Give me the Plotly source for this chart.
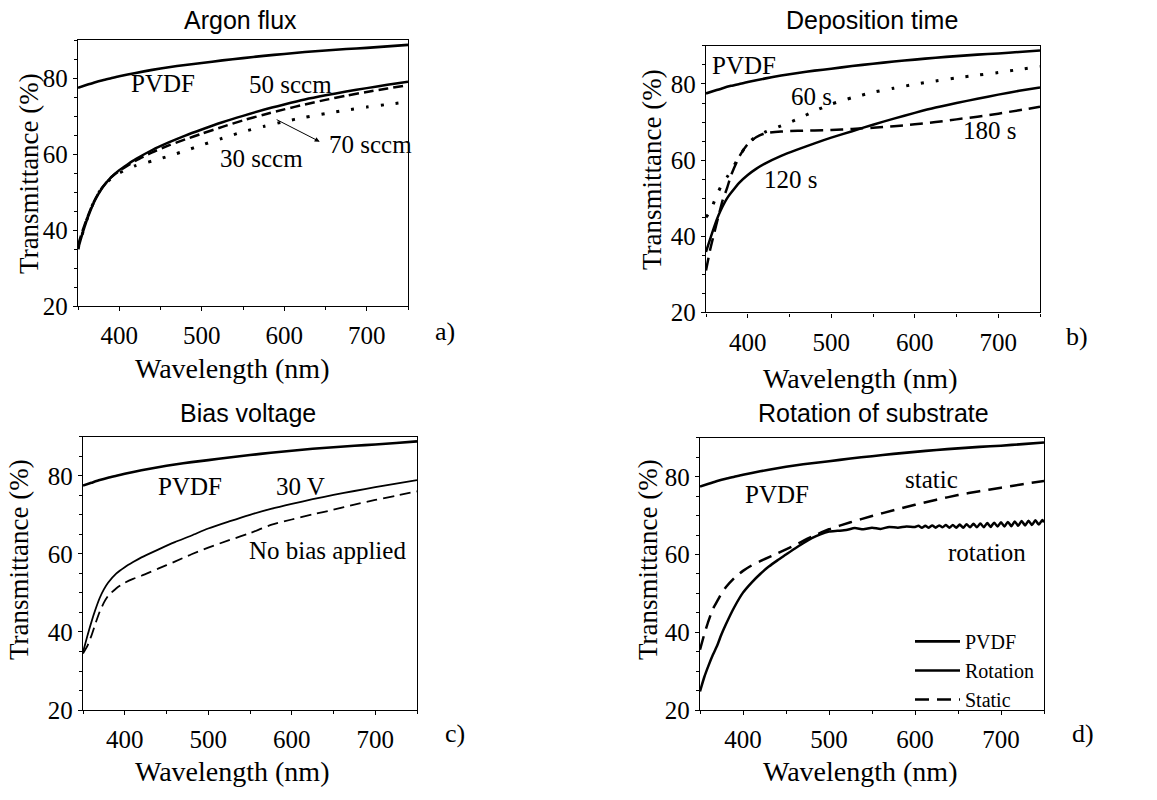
import plotly.graph_objects as go

# ---------------------------------------------------------------- data
# Bare PVDF substrate (same reference spectrum in every panel)
pvdf_wl = [350, 360, 370, 380, 390, 400, 420, 440, 460, 480, 500, 525, 550,
           575, 600, 625, 650, 675, 700, 725, 750]
pvdf_t = [77.5, 78.2, 78.9, 79.5, 80.0, 80.5, 81.4, 82.2, 82.9, 83.5, 84.0,
          84.7, 85.3, 85.9, 86.4, 86.9, 87.3, 87.7, 88.0, 88.4, 88.8]

# common wavelength grid for the coated samples
wl = [350, 355, 360, 365, 370, 375, 380, 390, 400, 410, 420, 440, 460, 480,
      500, 525, 550, 575, 600, 625, 650, 675, 700, 725, 750]

# a) argon flux
ar_50 = [35.0, 38.8, 42.2, 45.1, 47.6, 49.6, 51.3, 53.9, 55.8, 57.3, 58.7,
         61.1, 63.1, 64.9, 66.5, 68.4, 70.1, 71.7, 73.1, 74.4, 75.5, 76.5,
         77.4, 78.3, 79.1]
ar_70 = [36.0, 39.5, 42.6, 45.4, 47.8, 49.8, 51.4, 53.9, 55.6, 57.0, 58.3,
         60.5, 62.3, 63.9, 65.4, 67.2, 68.9, 70.4, 71.8, 73.1, 74.3, 75.4,
         76.4, 77.3, 78.2]
ar_30 = [35.0, 38.8, 42.3, 45.3, 47.8, 49.8, 51.4, 53.6, 55.0, 56.1, 57.0,
         58.2, 59.5, 60.9, 62.4, 64.2, 65.9, 67.3, 68.6, 69.7, 70.7, 71.6,
         72.4, 73.1, 73.8]

# b) deposition time
t_60 = [45.0, 46.5, 49.2, 51.8, 54.0, 55.5, 57.2, 61.0, 64.3, 66.2, 67.3,
        69.0, 70.8, 72.9, 74.7, 76.4, 77.8, 78.9, 79.9, 80.8, 81.6, 82.3,
        83.0, 83.8, 84.6]
t_120 = [35.9, 39.3, 42.6, 45.5, 47.9, 49.9, 51.4, 54.1, 56.1, 57.7, 59.0,
         61.1, 62.8, 64.4, 65.9, 67.6, 69.3, 70.9, 72.4, 73.8, 75.0, 76.1,
         77.2, 78.2, 79.1]
t_180 = [31.0, 36.5, 41.0, 45.3, 49.5, 52.5, 56.0, 61.0, 64.2, 66.0, 67.0,
         67.5, 67.7, 67.8, 67.9, 68.2, 68.5, 68.9, 69.4, 70.0, 70.7, 71.4,
         72.2, 73.1, 74.0]

# c) bias voltage
bias_30 = [34.8, 38.8, 42.5, 45.8, 48.7, 50.9, 52.6, 55.0, 56.6, 57.9, 59.1,
           61.1, 63.0, 64.7, 66.5, 68.3, 70.0, 71.5, 72.8, 74.0, 75.1, 76.1,
           77.1, 78.0, 78.9]
bias_none = [34.5, 36.3, 39.0, 42.2, 45.2, 47.5, 49.2, 51.2, 52.6, 53.6, 54.4,
             56.2, 58.0, 59.9, 61.6, 63.5, 65.3, 67.4, 68.8, 70.1, 71.3, 72.6,
             73.8, 74.9, 76.0]

# d) substrate rotation
static_t = [35.5, 39.5, 43.0, 46.0, 48.0, 50.0, 51.6, 54.0, 55.8, 57.2, 58.3,
            60.3, 62.4, 64.6, 66.5, 68.3, 69.9, 71.4, 72.8, 74.1, 75.3, 76.3,
            77.2, 78.1, 78.9]
rot_wl = [350, 355, 360, 365, 370, 375, 380, 390, 400, 410, 420, 430, 440,
          450, 460, 470, 480, 490, 500, 510, 520, 530, 540, 550, 560, 570,
          580, 590, 600, 604, 608, 612, 616, 620, 624, 628, 632, 636, 640,
          644, 648, 652, 656, 660, 664, 668, 672, 676, 680, 684, 688, 692,
          696, 700, 704, 708, 712, 716, 720, 724, 728, 732, 736, 740, 744,
          748, 750]
rot_t = [24.8, 28.5, 31.5, 34.2, 36.6, 39.5, 42.0, 46.5, 50.2, 52.8, 55.0,
         56.9, 58.5, 60.0, 61.5, 62.9, 64.2, 65.2, 65.9, 66.1, 66.3, 66.8,
         66.5, 66.9, 66.6, 67.1, 66.9, 67.2, 67.1, 67.4, 66.9, 67.4, 66.9,
         67.5, 66.9, 67.5, 67.0, 67.6, 66.9, 67.6, 66.9, 67.7, 66.9, 67.8,
         67.0, 67.9, 67.0, 68.0, 67.0, 68.1, 67.1, 68.2, 67.2, 68.3, 67.2,
         68.4, 67.3, 68.5, 67.4, 68.6, 67.5, 68.7, 67.6, 68.8, 67.7, 68.9,
         68.3]

x_ticks = [400, 500, 600, 700]
y_ticks = [20, 40, 60, 80]

# ---------------------------------------------------------------- layout helpers
W, H = 1157, 800
SERIF = "Liberation Serif"
SANS = "Liberation Sans"


def fx(px):
    return px / W


def fy(py):
    return 1 - py / H


# plot-area boxes in pixels: (left, right, top, bottom)
boxes = {
    1: (78, 408, 41, 311.5),
    2: (706, 1040, 46.7, 318),
    3: (83, 417, 444.5, 722.7),
    4: (700, 1044, 445.7, 722.7),
}

fig = go.Figure()


def add(panel, x, y, name=None, width=2.5, dash="solid", legend=False):
    sfx = "" if panel == 1 else str(panel)
    fig.add_trace(go.Scatter(
        x=x, y=y, mode="lines", name=name, showlegend=legend,
        line=dict(color="black", width=width, dash=dash, shape="spline",
                  smoothing=0.6),
        xaxis="x" + sfx, yaxis="y" + sfx, hoverinfo="skip"))


DOT = "3px,12px"

# a) Argon flux
add(1, pvdf_wl, pvdf_t, width=2.6)
add(1, wl, ar_30, width=3, dash=DOT)
add(1, wl, ar_70, width=2.5, dash="10px,5px")
add(1, wl, ar_50, width=2.5)

# b) Deposition time
add(2, pvdf_wl, pvdf_t, width=2.6)
add(2, wl, t_60, width=3, dash=DOT)
add(2, wl, t_180, width=2.5, dash="13px,7px")
add(2, wl, t_120, width=2.5)

# c) Bias voltage
add(3, pvdf_wl, pvdf_t, width=2.6)
add(3, wl, bias_none, width=1.8, dash="11px,6px")
add(3, wl, bias_30, width=1.8)

# d) Rotation of substrate (carries the legend)
add(4, pvdf_wl, pvdf_t, name="PVDF", width=2.6, legend=True)
add(4, rot_wl, rot_t, name="Rotation", width=2.5, legend=True)
add(4, wl, static_t, name="Static", width=2.5, dash="14px,8px", legend=True)

layout = dict(
    width=W, height=H, margin=dict(l=0, r=0, t=0, b=0, pad=0),
    paper_bgcolor="white", plot_bgcolor="white",
    showlegend=True,
    legend=dict(x=fx(910), y=fy(633), xanchor="left", yanchor="top",
                bgcolor="rgba(0,0,0,0)", borderwidth=0,
                font=dict(family=SERIF, size=20, color="black"),
                itemwidth=45, tracegroupgap=0),
)

for p, (l, r, t, b) in boxes.items():
    sfx = "" if p == 1 else str(p)
    common = dict(showline=True, linecolor="black", linewidth=1.3,
                  mirror=True, ticks="outside", ticklen=4, tickwidth=1.2,
                  tickcolor="black", showgrid=False, zeroline=False,
                  tickfont=dict(family=SERIF, size=25, color="black"))
    layout["xaxis" + sfx] = dict(
        common, domain=[fx(l), fx(r)], range=[350, 750], tickvals=x_ticks,
        anchor="y" + sfx, ticklabelstandoff=3,
        minor=dict(dtick=50, tick0=350, ticks="outside", ticklen=3,
                   tickcolor="black", tickwidth=1))
    layout["yaxis" + sfx] = dict(
        common, domain=[fy(b), fy(t)], range=[20, 90], tickvals=y_ticks,
        anchor="x" + sfx,
        minor=dict(dtick=5, tick0=20, ticks="outside", ticklen=3,
                   tickcolor="black", tickwidth=1))

fig.update_layout(**layout)

annots = []


def paper_text(text, x, y, size, family=SERIF, angle=0):
    annots.append(dict(text=text, x=fx(x), y=fy(y), xref="paper",
                       yref="paper", showarrow=False, textangle=angle,
                       xanchor="center", yanchor="middle",
                       font=dict(family=family, size=size, color="black")))


def data_text(panel, text, x, y, size=25):
    sfx = "" if panel == 1 else str(panel)
    annots.append(dict(text=text, x=x, y=y, xref="x" + sfx, yref="y" + sfx,
                       showarrow=False, xanchor="center", yanchor="middle",
                       font=dict(family=SERIF, size=size, color="black")))


# panel titles
paper_text("Argon flux", 240, 20, 25, SANS)
paper_text("Deposition time", 872, 20, 25, SANS)
paper_text("Bias voltage", 248, 420, 25, SANS)
paper_text("Rotation of substrate", 873, 420, 25, SANS)

# axis titles
for (xc, yc) in [(232, 375), (860, 385), (232, 785), (860, 785)]:
    paper_text("Wavelength (nm)", xc, yc, 28)
for (xc, yc) in [(29, 177), (652, 172), (19, 570), (648, 570)]:
    paper_text("Transmittance (%)", xc, yc, 27, angle=-90)

# panel letters
paper_text("a)", 445, 337, 26)
paper_text("b)", 1077, 343, 26)
paper_text("c)", 455, 747, 26)
paper_text("d)", 1083, 747, 26)

# curve labels
data_text(1, "PVDF", 453, 78.5)
data_text(1, "50 sccm", 607, 78.3)
data_text(1, "70 sccm", 704, 62.6)
data_text(1, "30 sccm", 573, 58.8)
data_text(2, "PVDF", 395, 84.9)
data_text(2, "60 s", 476, 76.7)
data_text(2, "120 s", 451, 54.8)
data_text(2, "180 s", 690, 67.7)
data_text(3, "PVDF", 478, 77.2)
data_text(3, "30 V", 611, 77.2)
data_text(3, "No bias applied", 643, 60.8)
data_text(4, "PVDF", 439, 75.4)
data_text(4, "static", 619, 79.2)
data_text(4, "rotation", 684, 60.6)

# pointer from the 70 sccm label to its curve
annots.append(dict(text="", x=643, y=63.3, ax=589, ay=69.3, xref="x",
                   yref="y", axref="x", ayref="y", showarrow=True,
                   arrowhead=2, arrowsize=1, arrowwidth=1,
                   arrowcolor="black"))

fig.update_layout(annotations=annots)
fig.write_html("out.html")
